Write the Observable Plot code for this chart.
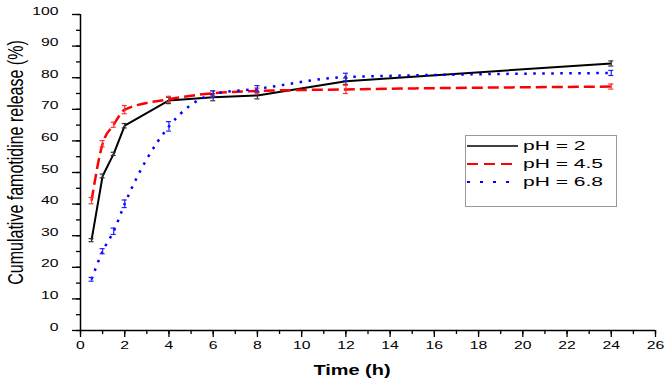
<!DOCTYPE html>
<html><head><meta charset="utf-8">
<script src="https://cdn.jsdelivr.net/npm/d3@7"></script>
<script src="https://cdn.jsdelivr.net/npm/@observablehq/plot@0.6"></script>
<style>
body{margin:0;background:#fff;}
#wrap{position:relative;width:668px;height:386px;}
#legend{position:absolute;left:465px;top:135px;width:152px;height:72px;border:1px solid #999;box-sizing:border-box;font-family:"Liberation Sans",Arial,sans-serif;font-size:12px;}
#legend .row{position:absolute;left:1px;height:16px;display:flex;align-items:center;}
#legend svg{display:block;}
#legend span{display:inline-block;transform:scaleX(1.75);transform-origin:left center;white-space:nowrap;}
</style></head>
<body><div id="wrap"><div id="chart"></div><div id="legend"></div></div>
<script>
const times = [0.5, 1, 1.5, 2, 4, 6, 8, 12, 24];
const series = ["pH = 2", "pH = 4.5", "pH = 6.8"];
const ph2 = [28.6, 48.9, 55.9, 64.8, 72.8, 73.8, 74.4, 78.9, 84.5];
const ph45 = [41.1, 59.1, 65.1, 69.9, 73.2, 75.1, 75.8, 76.3, 77.2];
const ph68 = [16.2, 25.1, 31.4, 40.1, 64.6, 74.8, 76.5, 80.2, 81.5];
const err2 = [0.5, 0.6, 0.5, 0.7, 1.0, 1.1, 1.1, 1.0, 0.8];
const err45 = [1.0, 1.0, 0.8, 1.3, 0.9, 0.8, 0.9, 1.3, 0.8];
const err68 = [0.6, 0.8, 1.0, 1.2, 1.5, 1.0, 1.0, 1.2, 0.8];
const colors = ["#000000", "#ff0000", "#0000ff"];
const barColors = ["#333333", "#ff3030", "#2020ff"];
const dashes = [null, "11,5", "2.5,6.5"];
const legendDashes = [null, "11,6", "3,10"];
const widths = [2, 2.5, 2.5];
const curves = ["linear", "monotone-x", "monotone-x"];
const xTicks = d3.range(0, 27, 2);
const yTicks = d3.range(0, 101, 10);

const allVals = [ph2, ph45, ph68], allErr = [err2, err45, err68];
const rows = [];
series.forEach((s, i) => times.forEach((t, j) => rows.push({series: s, i, t, v: allVals[i][j], e: allErr[i][j]})));

const font = "'Liberation Sans', Arial, sans-serif";
const marks = [];
series.forEach((s, i) => {
  const d = rows.filter(r => r.i === i);
  marks.push(Plot.line(d, {x: "t", y: "v", stroke: colors[i], strokeWidth: widths[i], strokeDasharray: dashes[i], curve: curves[i], strokeLinecap: "butt"}));
});
series.forEach((s, i) => {
  const d = rows.filter(r => r.i === i);
  marks.push(Plot.ruleX(d, {x: "t", y1: r => r.v - r.e, y2: r => r.v + r.e, stroke: barColors[i], strokeWidth: 1.2}));
  marks.push(Plot.ruleY(d, {y: r => r.v - r.e, x1: "t", x2: "t", insetLeft: -2.5, insetRight: -2.5, stroke: barColors[i], strokeWidth: 1.2}));
  marks.push(Plot.ruleY(d, {y: r => r.v + r.e, x1: "t", x2: "t", insetLeft: -2.5, insetRight: -2.5, stroke: barColors[i], strokeWidth: 1.2}));
});

const chart = Plot.plot({
  width: 668, height: 386,
  marginLeft: 80, marginRight: 13, marginTop: 14, marginBottom: 56,
  style: {fontFamily: font, fontSize: "10.5px", color: "#000", background: "#fff"},
  x: {domain: [0, 26]},
  y: {domain: [0, 100]},
  marks: [
    Plot.axisX({ticks: d3.range(0, 27, 1), tickSize: 4, text: null, label: null, strokeWidth: 1.3}),
    Plot.axisY({ticks: d3.range(0, 101, 5), tickSize: 4, text: null, label: null, strokeWidth: 1.3}),
    Plot.axisX({ticks: xTicks, tickSize: 7, tickPadding: 7, fontSize: 10.5, strokeWidth: 1.3, label: "Time (h)", labelAnchor: "center", labelArrow: "none", labelOffset: 45, tickFormat: d3.format("d")}),
    Plot.axisY({ticks: yTicks, tickSize: 8, tickPadding: 8, fontSize: 10.5, strokeWidth: 1.3, label: "Cumulative famotidine release (%)", labelAnchor: "center", labelArrow: "none", labelOffset: 66, tickFormat: d3.format("d")}),
    Plot.ruleX([0], {strokeWidth: 1.5}),
    Plot.ruleY([0], {strokeWidth: 1.5}),
    ...marks
  ]
});
document.getElementById("chart").appendChild(chart);

// horizontally stretched text, as in the reference picture
function stretch(t, sx, sy, extra) {
  const x = +t.getAttribute("x") || 0, y = +t.getAttribute("y") || 0;
  const tr = t.getAttribute("transform") || "";
  t.setAttribute("x", 0); t.setAttribute("y", 0);
  t.setAttribute("transform", `${tr} translate(${x},${y}) ${extra || ""} scale(${sx},${sy})`);
}
chart.querySelectorAll("[aria-label='y-axis tick label'] text").forEach(t => {
  t.style.fontSize = "10.5px";
  stretch(t, 1.5, 1, "translate(-6,0)");
});
chart.querySelectorAll("[aria-label='x-axis tick label'] text").forEach(t => {
  t.style.fontSize = "10.5px";
  stretch(t, 1.5, 1, "translate(0,4)");
});
chart.querySelectorAll("[aria-label='x-axis label'] text").forEach(t => {
  t.style.fontWeight = "bold"; t.style.fontSize = "15px";
  stretch(t, 1.33, 1, "translate(-16,-1)");
});
chart.querySelectorAll("[aria-label='y-axis label'] text").forEach(t => {
  t.style.fontSize = "16px";
  stretch(t, 1, 1.35, "translate(10,8)");
});

// legend
const leg = document.getElementById("legend");
series.forEach((s, i) => {
  const row = document.createElement("div");
  row.className = "row";
  row.style.top = (2 + i * 18) + "px";
  const svg = d3.create("svg").attr("width", 53).attr("height", 10);
  svg.append("line").attr("x1", 0).attr("x2", 51).attr("y1", 5).attr("y2", 5)
    .attr("stroke", colors[i]).attr("stroke-width", i === 0 ? 1.6 : 2).attr("stroke-dasharray", legendDashes[i]);
  row.appendChild(svg.node());
  const sp = document.createElement("span");
  sp.textContent = s;
  sp.style.marginLeft = "3px";
  row.appendChild(sp);
  leg.appendChild(row);
});
</script></body></html>
